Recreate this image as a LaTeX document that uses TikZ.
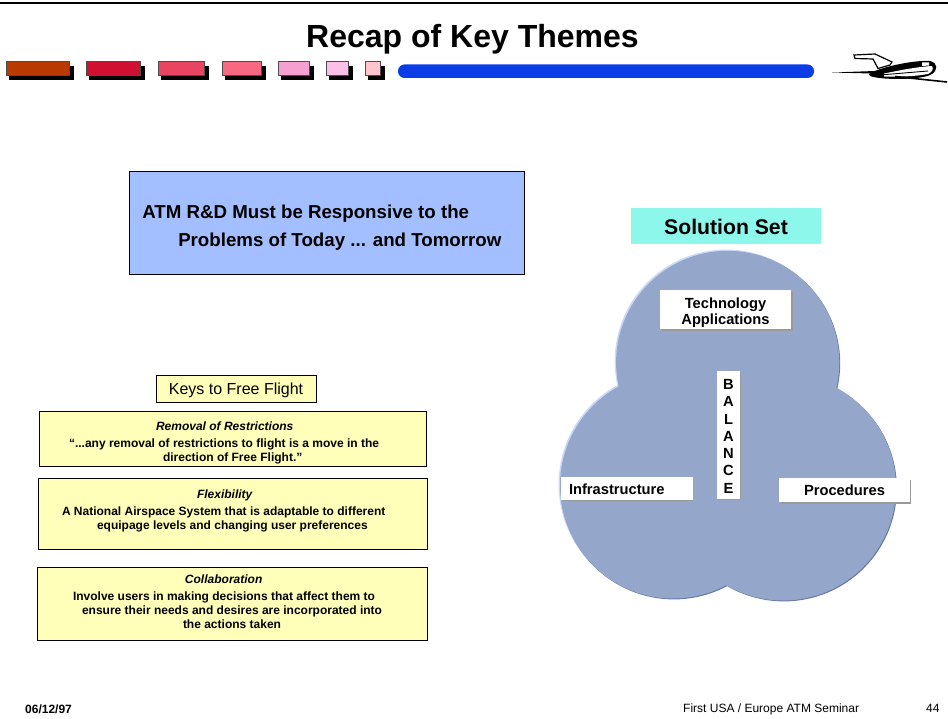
\documentclass[tikz,border=0pt]{standalone}
\usepackage{fontspec}
\setmainfont{Liberation Sans}
\definecolor{bubble}{HTML}{94A6CA}
\definecolor{bubblelight}{HTML}{C8D8F8}
\definecolor{bubbledark}{HTML}{6579A6}
\definecolor{headbox}{HTML}{A3BFFF}
\definecolor{cyanbox}{HTML}{8EF7EC}
\definecolor{keyyellow}{HTML}{FFFFB9}
\definecolor{barblue}{HTML}{0A3DE6}
\definecolor{shadowgray}{HTML}{999999}
\newcommand{\KL}[2]{\noindent\hspace*{#1pt}#2\par}
\newcommand{\KH}[2]{\noindent\hspace*{#1pt}{\itshape #2}\par\vspace{3pt}}
\newcommand{\KT}[4]{\begin{minipage}[t][#2pt][t]{#1pt}\fontsize{12}{14}\selectfont\bfseries\vspace*{#3pt}#4\end{minipage}}
\tikzset{
  keybox/.style={draw=black,line width=.9pt,fill=keyyellow,inner sep=0pt,outer sep=0pt},
  whitebox/.style={fill=white,inner sep=0pt,outer sep=0pt,font=\fontsize{14.7}{16}\selectfont\bfseries,align=center},
  foot/.style={inner sep=0pt,anchor=base west,font=\fontsize{12}{14}\selectfont}
}
\begin{document}
\begin{tikzpicture}[x=1pt,y=-1pt]
\useasboundingbox (0,0) rectangle (948,719);
\draw[line width=2.2pt,black] (0,3) -- (948,3);
\node[inner sep=0pt,anchor=base] (title) at (472.5,48) {\fontsize{32}{36}\selectfont\bfseries Recap of Key Themes};
% progress bars
\foreach \a/\b/\c [count=\i] in {6/69/B83A00,86/140/D01030,158/204/E84560,222/261/F86880,278/309/F4A0D0,326/348/FCC0E8,365/380/FFC4D0}{
  \definecolor{barc}{HTML}{\c}
  \fill[black] (\a+3,66) rectangle (\b+5,80.5);
  \draw[black!70,line width=.8pt,fill=barc] (\a,61) rectangle (\b,75.5);
}
\fill[barblue,rounded corners=6.5pt] (398,64.5) rectangle (814,78);
% airplane
\begin{scope}[black]
  \fill (832,72.5) -- (875,71) -- (872,73.5) -- cycle;
  \fill (870,73) .. controls (885,66) and (915,60) .. (930,61) .. controls (938,63) and (938,70) .. (932,74) .. controls (925,79) and (895,80) .. (880,78) .. controls (870,77) and (867,75) .. (870,73) -- cycle;
  \fill[white] (884,73.5) .. controls (897,71) and (915,67) .. (932,66) .. controls (934,69) and (932,72) .. (928,74) .. controls (915,76.5) and (897,77) .. (884,76.5) -- cycle;
  \fill[white] (922,62.5) -- (929,62.5) -- (929,65.5) -- (922,66) -- cycle;
  \draw[line width=.9pt] (880,75) -- (928,71);
  \draw[line width=1.6pt] (895,76.5) -- (947,82);
  \fill[white,draw=black,line width=1.2pt] (854,55) -- (875,54) -- (892,62) -- (890,65) -- (878,68.5) -- (873,59) -- (855,58.5) -- cycle;
\end{scope}
% heading box
\node[draw=black,line width=.6pt,fill=headbox,inner sep=0pt,minimum width=395.5pt,minimum height=103pt] (hbox) at (327,222.5) {%
  \begin{minipage}{395.5pt}\fontsize{18.7}{28}\selectfont\bfseries
  \vspace*{10pt}
  \KL{13}{ATM R\&D Must be Responsive to the}
  \KL{49}{Problems of Today ... and Tomorrow}
  \end{minipage}};
% solution set
\node[fill=cyanbox,inner sep=0pt,minimum width=190pt,minimum height=36pt,font=\fontsize{21.2}{24}\selectfont\bfseries] (sol) at (726,226) {\rule{0pt}{17.4pt}Solution Set};
% bubble
\foreach \dx/\dy/\cc in {-1.4/-1.2/bubblelight,.9/.9/bubbledark,0/0/bubble}{
  \fill[\cc] (727.7+\dx,362.4+\dy) circle[radius=111.6] (673+\dx,485.5+\dy) circle[radius=113] (783+\dx,487.5+\dy) circle[radius=113];
}
\fill[bubble] (726,480) circle[radius=60];
% white labels
\fill[shadowgray] (662,292) rectangle (793,331);
\node[whitebox,minimum width=131pt,minimum height=39pt] (tech) at (725.5,309.5) {\rule{0pt}{16.6pt}Technology\\[-.4pt]Applications};
\fill[shadowgray] (719,373) rectangle (741,500);
\node[whitebox,minimum width=23pt,minimum height=128pt,font=\fontsize{14.7}{17.3}\selectfont\bfseries] (bal) at (728.5,435) {\rule{0pt}{12.6pt}B\\A\\L\\A\\N\\C\\E};
\fill[shadowgray] (563,479) rectangle (693,501);
\node[whitebox,minimum width=131pt,minimum height=23pt,anchor=west,align=left] (inf) at (561,488.5) {\hspace*{8pt}\rule{0pt}{12.7pt}Infrastructure\hspace*{28pt}};
\fill[shadowgray] (781,480) rectangle (911,503.5);
\node[whitebox,minimum width=131pt,minimum height=24pt] (proc) at (844.5,490) {Procedures};
% keys
\node[keybox,minimum width=160pt,minimum height=27pt,font=\fontsize{16}{18}\selectfont] (keys) at (236,388.5) {\rule{0pt}{15.7pt}Keys to Free Flight};
\node[keybox,anchor=north west] (rem) at (39,411) {\KT{387}{55}{10.5}{%
  \KH{117}{Removal of Restrictions}
  \KL{30}{“...any removal of restrictions to flight is a move in the}
  \KL{124}{direction of Free Flight.”}}};
\node[keybox,anchor=north west] (flex) at (38,478) {\KT{389}{71}{12}{%
  \KH{159}{Flexibility}
  \KL{24}{A National Airspace System that is adaptable to different}
  \KL{59}{equipage levels and changing user preferences}}};
\node[keybox,anchor=north west] (coll) at (37,567) {\KT{390}{73}{8}{%
  \KH{148}{Collaboration}
  \KL{36}{Involve users in making decisions that affect them to}
  \KL{45}{ensure their needs and desires are incorporated into}
  \KL{146}{the actions taken}}};
% footer
\node[foot] (date) at (25,713) {\bfseries 06/12/97};
\node[foot] (sem) at (683,712) {First USA / Europe ATM Seminar};
\node[foot] (pg) at (926,712) {44};
\end{tikzpicture}
\end{document}
